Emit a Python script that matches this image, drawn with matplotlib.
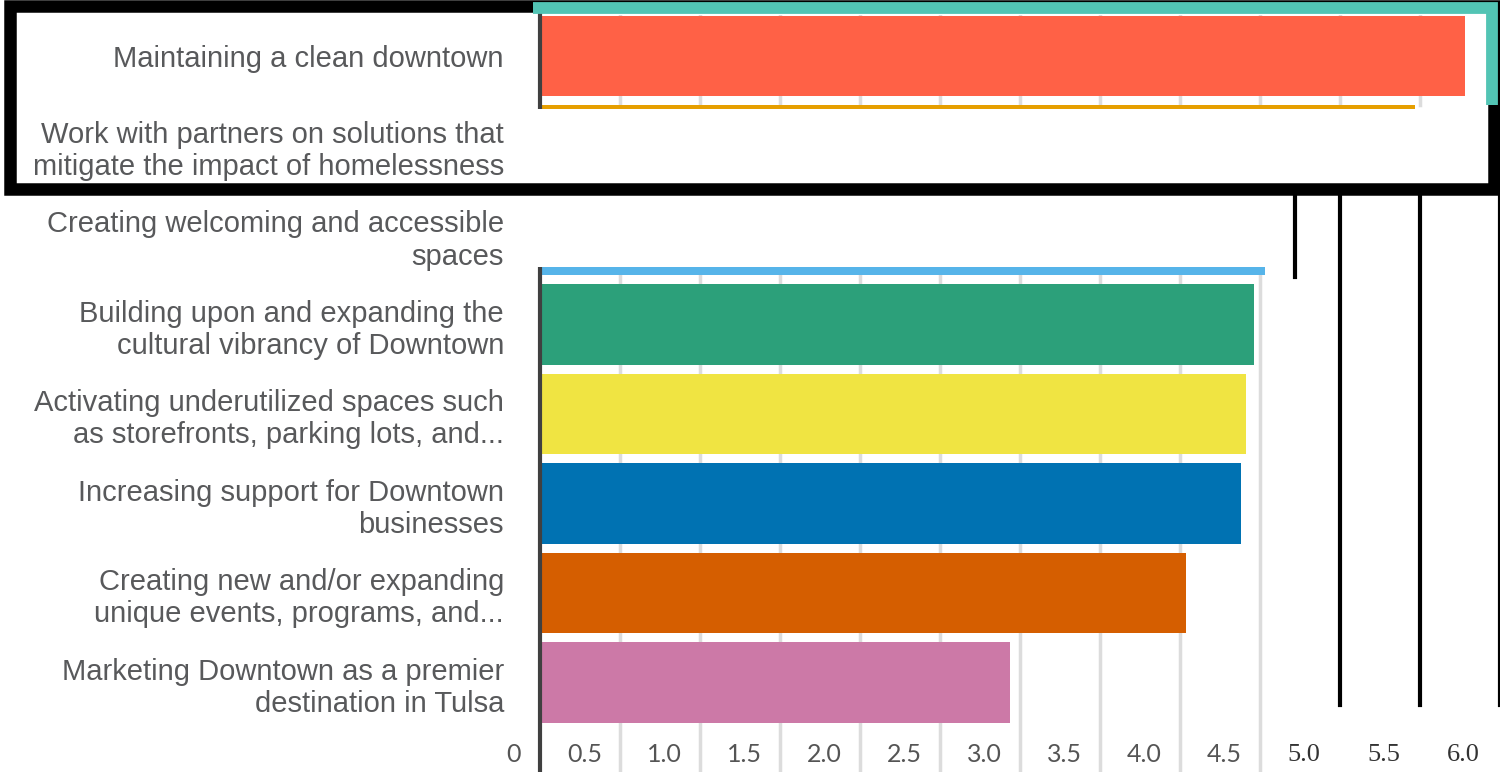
import matplotlib.pyplot as plt
from matplotlib.patches import Rectangle
from matplotlib.lines import Line2D
import matplotlib.transforms as mtransforms

# priorities, mean score
labels = [
    "Maintaining a clean downtown",
    "Work with partners on solutions that\nmitigate the impact of homelessness",
    "Creating welcoming and accessible\nspaces",
    "Building upon and expanding the\ncultural vibrancy of Downtown",
    "Activating underutilized spaces such\nas storefronts, parking lots, and...",
    "Increasing support for Downtown\nbusinesses",
    "Creating new and/or expanding\nunique events, programs, and...",
    "Marketing Downtown as a premier\ndestination in Tulsa",
]
scores = [5.78, 5.47, 4.53, 4.46, 4.41, 4.38, 4.04, 2.94]
colors = ["#FF6146", "#E69F00", "#56B4E9", "#2CA07A", "#F0E442",
          "#0072B2", "#D55E00", "#CC79A7"]
ticks = [0.5, 1.0, 1.5, 2.0, 2.5, 3.0, 3.5, 4.0, 4.5, 5.0, 5.5, 6.0]
tick_text = ["0.5", "1.0", "1.5", "2.0", "2.5", "3.0", "3.5", "4.0", "4.5",
             "5.0", "5.5", "6.0"]

W, H = 1500, 772
fig = plt.figure(figsize=(15, 7.72), dpi=100)


def fx(px):
    return px / W


def fy(py):
    return 1 - py / H


ax = fig.add_axes([fx(540), 0, fx(960), 757 / H])
ax.set_xlim(0, 6.0)
ax.set_ylim(8.0, -0.46)

ypos = list(range(len(labels)))
ax.barh(ypos, scores, height=0.9, color=colors, zorder=2)

# gridlines
for t in ticks:
    if t <= 4.5:
        ax.axvline(t, color="#dcdcdc", lw=2.5, zorder=1)
    else:
        ax.axvline(t, ymin=(772 - 105) / 757, ymax=1, color="#dcdcdc", lw=2.5, zorder=1)

for s in ["top", "right", "bottom"]:
    ax.spines[s].set_visible(False)
ax.spines["left"].set_color("#404040")
ax.spines["left"].set_linewidth(3)

ax.set_xticks([])
ax.set_yticks(ypos)
ax.set_yticklabels(labels, fontsize=21, color="#58595b", family="Liberation Sans",
                   linespacing=1.2)
ax.tick_params(axis="y", length=0, pad=26)

# x tick labels, set just left of each gridline
tr = mtransforms.blended_transform_factory(ax.transData, ax.transAxes)
ty = (772 - 755) / 757
ax.text(0, ty, "0", transform=mtransforms.offset_copy(tr, fig=fig, x=-19, y=0, units="dots"),
        ha="right", va="center", fontsize=18, color="#555555", family="Lato")
for t, s in zip(ticks, tick_text):
    if t <= 4.5:
        ax.text(t, ty, s, transform=mtransforms.offset_copy(tr, fig=fig, x=-18, y=0, units="dots"),
                ha="right", va="center", fontsize=18, color="#555555", family="Lato")
    else:
        ax.text(t, ty, s, transform=mtransforms.offset_copy(tr, fig=fig, x=-20, y=0, units="dots"),
                ha="right", va="center", fontsize=19, color="#333333", family="Liberation Serif")

# white patch hiding part of the plot
ax.add_patch(Rectangle((fx(535), fy(267)), fx(965), (267 - 109) / H, transform=fig.transFigure,
                       facecolor="white", edgecolor="none", zorder=4, clip_on=False))

# black vertical lines on the right
for t in ticks[-3:]:
    ax.axvline(t, ymin=(772 - 705) / 757, ymax=(772 - 190) / 757, color="black", lw=3, zorder=5)
ax.axvline(4.72, ymin=(772 - 277) / 757, ymax=(772 - 190) / 757, color="black", lw=3, zorder=5)

# black frame and teal border
fig.add_artist(Rectangle((fx(10), fy(189)), fx(1484), (189 - 6) / H, transform=fig.transFigure,
                         facecolor="none", edgecolor="black", lw=9, zorder=6))
fig.add_artist(Line2D([fx(533), fx(1492), fx(1492)], [fy(8), fy(8), fy(105)],
                      transform=fig.transFigure, color="#52C4B4", lw=8.5,
                      solid_capstyle="butt", solid_joinstyle="miter", zorder=7))

fig.savefig("out.png", dpi=100)
